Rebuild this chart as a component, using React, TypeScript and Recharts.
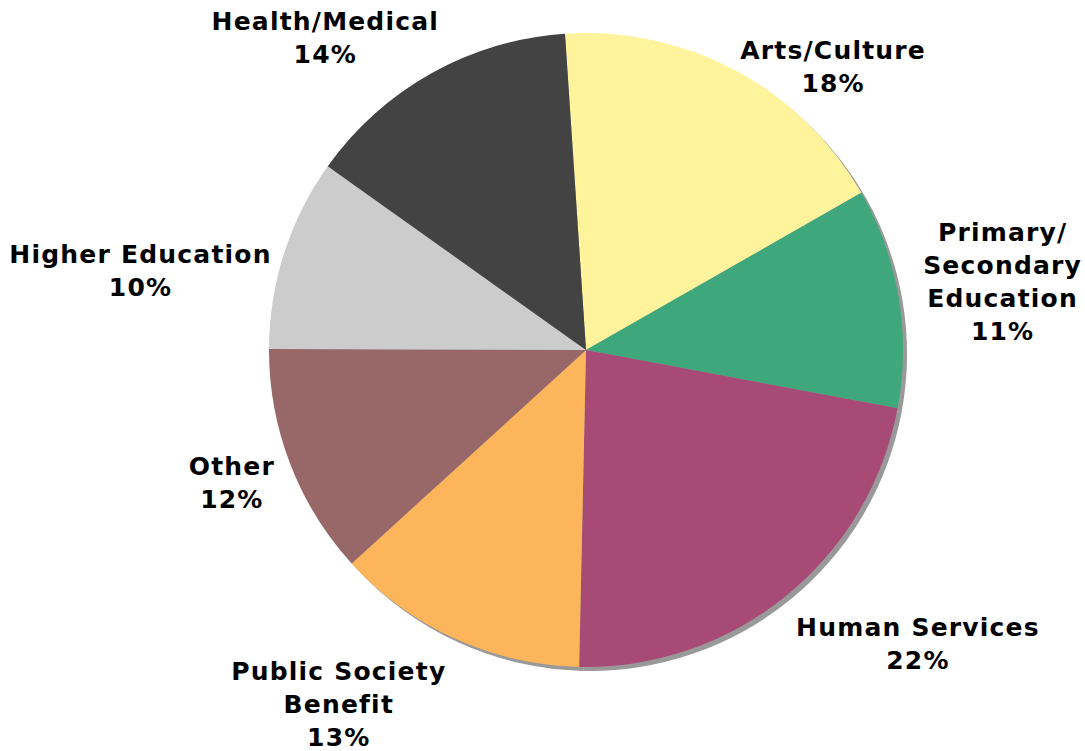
import { PieChart, Pie, Cell } from 'recharts'

// slices clockwise from the top
const categories = [
  'Arts/Culture',
  'Primary/\nSecondary\nEducation',
  'Human Services',
  'Public Society\nBenefit',
  'Other',
  'Higher Education',
  'Health/Medical',
]
const shares = [17.8, 11.2, 22.4, 12.9, 11.8, 9.8, 14.1]
const colors = ['#FFF39B', '#3EA77C', '#A84A76', '#FDB55B', '#986767', '#CCCCCC', '#434343']

// label nudges from the default spot outside each slice
const labelNudge = [
  [64, 57],
  [35, -4],
  [88, -7],
  [-87, 2],
  [7, -7],
  [-77, 39],
  [-72, 25],
]

const data = categories.map((name, i) => ({ name, value: shares[i] }))

const RAD = Math.PI / 180
const LINE_H = 33

function renderLabel(props: any) {
  const { cx, cy, midAngle, outerRadius, index, percent } = props
  const r = outerRadius + 70
  const x = cx + r * Math.cos(-midAngle * RAD) + labelNudge[index][0]
  const y = cy + r * Math.sin(-midAngle * RAD) + labelNudge[index][1]
  const lines = [...categories[index].split('\n'), `${Math.round(percent * 100)}%`]
  const firstBaseline = y - ((lines.length - 1) * LINE_H) / 2 + 9
  return (
    <text
      key={`lbl-${index}`}
      x={x}
      y={firstBaseline}
      textAnchor="middle"
      fill="#000"
      fontFamily="'DejaVu Sans', Verdana, sans-serif"
      fontWeight="bold"
      fontSize={25}
      letterSpacing={1.2}
    >
      {lines.map((l, i) => (
        <tspan key={i} x={x} y={firstBaseline + i * LINE_H}>
          {l}
        </tspan>
      ))}
    </text>
  )
}

export default function App() {
  return (
    <div style={{ position: 'absolute', left: 0, top: 0, width: 1085, height: 751, background: '#fff' }}>
      <PieChart width={1085} height={751} margin={{ top: 0, right: 0, bottom: 0, left: 0 }}>
        {/* drop shadow */}
        <Pie
          data={data}
          dataKey="value"
          cx={590}
          cy={354}
          outerRadius={317}
          startAngle={93.8}
          endAngle={-266.2}
          stroke="none"
          fill="#999999"
          isAnimationActive={false}
          label={false}
          labelLine={false}
        />
        <Pie
          data={data}
          dataKey="value"
          cx={586}
          cy={350}
          outerRadius={317}
          startAngle={93.8}
          endAngle={-266.2}
          stroke="none"
          isAnimationActive={false}
          label={renderLabel}
          labelLine={false}
        >
          {data.map((d, i) => (
            <Cell key={d.name} fill={colors[i]} />
          ))}
        </Pie>
      </PieChart>
    </div>
  )
}
